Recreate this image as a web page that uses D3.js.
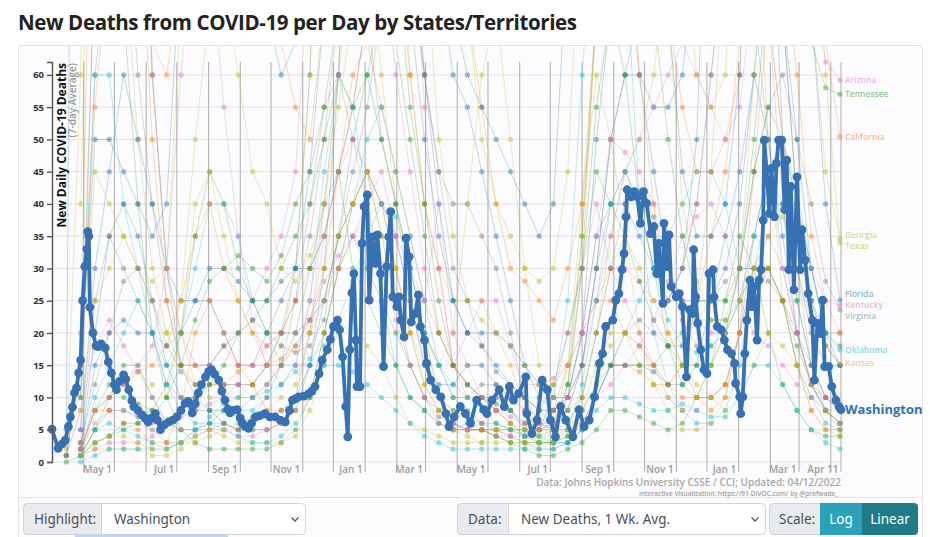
<!DOCTYPE html>
<html>
<head>
<meta charset="utf-8">
<script src="https://cdn.jsdelivr.net/npm/d3@7"></script>
<style>
  body { margin: 0; background: #fff; font-family: "Open Sans", sans-serif; }
</style>
</head>
<body>
<svg id="chart" width="930" height="537"></svg>
<script>
// ---- data ----
var startDate = new Date(2020, 2, 1);
var endDate = new Date(2022, 3, 11);
var stepDays = 14; // background states are read every two weeks

// Washington (highlighted), day offset from Mar 1 2020 and 7-day avg deaths
var waDay = [0,6,10,13,16,18,20,22,24,26,28,30,32,34,35,36,37,40,43,45,48,52,55,58,61,63,66,70,72,75,78,80,84,88,91,94,97,101,103,106,110,114,118,122,126,130,133,137,140,143,146,150,153,156,159,163,166,169,172,174,177,181,184,186,189,192,195,199,203,208,213,218,223,228,232,235,238,241,246,251,254,257,261,264,269,272,275,279,281,284,287,289,291,293,295,297,298,301,303,305,308,310,313,316,318,321,324,327,329,331,333,337,339,341,344,346,349,351,355,358,360,364,366,370,375,380,385,388,393,399,404,409,415,422,425,430,437,442,447,451,456,463,464,469,474,479,484,487,492,497,502,509,515,520,525,530,535,538,541,548,551,554,557,559,561,562,566,569,572,575,578,581,585,588,591,593,597,598,601,603,605,610,613,616,620,623,626,627,629,631,634,637,640,642,646,647,650,654,657,660,664,667,668,672,673,675,677,679,682,684,686,689,691,693,695,696,699,701,703,706,708,710,713,716,718,720,722,725,728,730,731,733,736,739,743,745,748,751,753,755,759,762,766,769,771];
var waVal = [5.1,2.1,2.8,3.4,5.5,7,8.5,10.7,11.5,13.8,15.8,25,30.3,33,35.7,35,24,20,18,17.9,18.3,17.7,15.5,13.8,12,11.2,12.5,13.5,12.8,11.2,9.5,8.6,8,7.3,6.8,6.2,6.8,7.5,6.5,5,5.8,6.2,6.5,7,8,9.1,9.4,7.6,9,10.7,12,13.2,14,14.3,13.6,12.7,11,9.6,8.2,7.6,8,8.1,6.8,6,5.5,5.2,6,7,7.2,7.5,7,7,6.5,6.2,8,9.6,9.8,10.1,10.2,10.6,11,11.7,13.7,15.8,17.4,19,21,22,20.5,16.3,8.6,3.9,17.4,26.2,29.2,18.9,11.7,11.7,33.9,39.6,41.4,25.1,34.9,30.8,35.2,29.2,14.8,30.3,34.9,38.8,25.6,24.1,25.6,22,19.4,34.7,31.8,21.7,23,25.9,21,18.9,15.3,12.7,11.2,10.1,7.5,5.5,7,8.6,7.5,6,9.6,8.1,7.5,9.6,11.2,8.6,11.7,9.6,10.6,13.2,7.5,4.4,6.5,12.7,11.2,6.5,3.9,8.6,6.5,3.9,8.1,5.5,6.5,10.1,15.3,16.8,21,22,25.1,26.1,29.8,32.3,38,42.2,41.1,41.9,41.1,37,41.9,40.1,35.4,36.5,29.2,33.9,24.6,37,30.3,35.2,27.2,25.6,26.1,24.1,13.2,23.6,23,32.9,25.6,21.5,17.4,14.3,13.7,29.2,29.8,25.6,21,20.5,18.9,17.4,16.8,15.3,12.2,10.1,7.5,10.1,16.8,22,28.2,24.1,27.2,18.9,28.2,29.8,37.5,49.9,43.7,38.5,45.5,38,46.3,49.9,49.9,39.1,46.8,29.8,42.7,26.7,44.2,34.4,29.8,36,31.3,26.1,22,12.7,21.5,19.9,25.1,14.8,14.8,11.7,9.6,8.6,8.1];

// labelled background states
var californiaVals = [null,1,15,55,80,75,70,65,60,75,110,130,135,110,90,80,65,55,50,70,120,250,400,550,500,380,250,150,100,70,55,40,30,28,25,22,30,40,70,100,110,100,85,70,55,45,45,50,60,110,160,170,130,90,65,50.4];
var arizonaVals = [null,null,3,8,10,12,15,18,30,60,85,80,55,35,22,15,12,15,25,40,60,110,150,160,140,90,55,30,15,12,10,10,10,12,12,13,15,20,25,35,45,50,55,60,65,60,55,50,55,75,100,110,95,75,62,59.2];
var tennesseeVals = [null,0,1,3,4,6,6,7,10,15,22,28,30,32,30,28,32,40,45,55,70,85,90,100,80,55,40,25,15,12,10,9,8,6,5,6,12,35,70,100,110,90,70,50,35,25,25,25,30,50,75,85,80,65,58,57];
var georgiaVals = [null,1,15,45,40,35,30,25,20,25,50,70,75,60,45,40,30,28,32,40,55,70,90,120,115,100,80,50,35,25,22,20,18,15,12,12,15,35,70,110,140,150,110,70,40,28,22,22,30,60,110,130,110,70,45,34.6];
var texasVals = [null,1,8,25,30,35,30,28,30,70,150,200,180,130,90,80,75,80,100,120,160,200,250,300,330,300,230,160,100,70,50,40,35,30,28,30,45,90,180,260,300,250,180,120,80,60,55,60,100,180,250,260,200,120,60,34];
var floridaVals = [null,1,15,50,50,45,40,35,40,80,140,170,150,110,80,70,60,65,70,85,110,130,150,170,160,140,110,85,70,60,55,50,45,40,35,40,80,200,300,380,320,200,120,70,45,35,35,40,60,110,180,190,130,70,40,25.1];
var kentuckyVals = [null,null,2,6,8,8,7,6,6,7,8,9,10,12,10,12,15,18,22,28,32,35,38,40,35,30,25,40,20,15,10,8,7,6,5,6,10,20,35,50,48,45,40,30,25,22,20,20,25,35,45,50,40,30,25,24.3];
var virginiaVals = [null,null,3,12,20,28,30,25,18,14,12,15,18,20,22,20,18,17,18,22,35,45,55,70,80,75,60,45,30,25,18,14,12,10,6,5,6,10,20,30,40,42,38,30,22,18,18,20,30,45,55,60,50,40,28,23.6];
var oklahomaVals = [null,null,1,5,6,5,4,3,2,3,5,7,9,10,10,11,12,14,16,18,22,28,35,40,38,30,20,15,12,10,8,6,5,4,3,3,5,12,25,40,45,40,30,22,18,17,18,20,25,35,45,50,42,30,20,17.4];
var kansasVals = [null,null,1,3,4,4,3,2,2,3,3,4,5,6,7,8,10,12,20,30,35,40,45,35,30,20,12,8,5,4,3,3,3,3,3,3,5,8,12,18,20,15,12,10,8,10,15,20,25,30,35,38,30,22,18,15.3];

// other (unlabelled) states
var oregonVals = [null,null,1,2,2,2,2,1,1,2,4,5,4,3,3,3,3,4,8,15,20,22,18,15,10,6,5,4,3,3,3,5,6,5,4,4,5,10,20,30,35,30,25,20,15,12,10,8,10,15,20,18,15,12,8,6];
var coloradoVals = [null,1,8,18,22,18,14,10,6,5,5,5,5,4,4,5,6,10,20,35,45,50,40,30,22,15,10,6,5,5,6,8,10,8,6,5,5,6,10,12,15,18,22,28,35,38,40,35,25,20,18,15,12,10,8,6];
var missouriVals = [null,null,2,8,12,10,9,8,6,8,10,12,15,20,22,25,30,35,40,50,60,55,60,50,40,30,20,10,8,7,6,6,5,5,8,12,20,30,45,40,35,28,22,18,15,15,15,20,30,45,55,50,40,30,20,18];
var wisconsinVals = [null,null,1,3,4,5,6,5,3,3,4,5,6,5,7,10,15,25,40,55,60,50,45,35,25,15,10,7,6,5,5,5,4,3,2,2,3,6,10,15,20,22,20,18,18,22,25,28,30,30,28,25,20,15,10,8];
var marylandVals = [null,null,2,20,35,40,35,25,15,10,8,8,8,7,6,7,8,10,15,25,35,40,45,40,35,25,15,12,12,15,15,12,8,5,3,3,3,5,10,15,15,15,14,12,12,15,25,35,45,60,50,35,20,12,8,6];
var louisianaVals = [null,1,15,60,60,40,30,20,15,20,30,40,40,35,25,20,15,15,15,20,30,40,50,55,45,35,25,15,10,8,6,5,5,4,5,10,25,60,90,110,80,40,20,12,8,6,6,8,15,30,40,40,25,15,8,5];
var newYorkVals = [null,5,300,900,600,300,150,60,30,15,10,8,6,5,5,5,6,8,15,30,60,110,150,180,170,130,90,75,60,55,45,35,25,15,10,8,10,20,35,40,40,35,30,25,30,50,110,200,250,200,100,50,30,20,15,15];
var massachusettsVals = [null,null,20,120,150,130,90,50,25,15,15,12,12,14,15,15,16,18,22,30,45,60,65,55,45,35,25,20,15,12,10,8,6,4,3,3,4,6,10,15,15,14,12,12,15,25,35,45,65,80,70,50,30,15,10,8];
var southCarolinaVals = [null,null,1,5,8,8,7,8,12,20,35,45,40,30,25,20,20,20,22,25,35,50,60,70,65,50,35,20,15,12,10,8,6,4,4,5,12,30,55,70,60,40,30,18,12,10,10,12,20,35,45,40,25,15,10,8];
var mississippiVals = [null,null,3,8,10,12,14,12,10,20,40,45,35,25,20,15,15,18,20,25,35,40,45,40,30,20,15,10,8,6,5,5,4,3,3,5,15,40,60,50,35,20,12,8,5,5,6,10,20,30,30,25,15,8,5,4];
var utahVals = [null,null,0,1,2,2,2,2,2,3,5,6,5,4,3,3,4,6,10,15,15,14,12,10,8,6,4,3,2,2,2,2,2,2,2,2,3,5,8,10,10,9,8,8,9,8,7,7,10,15,15,12,8,5,3,2];
var pennsylvaniaVals = [null,null,10,60,80,90,60,40,25,15,15,15,12,12,12,15,20,30,60,120,180,220,200,180,120,90,60,45,40,40,35,30,20,10,8,6,8,15,30,50,60,70,80,90,110,120,140,150,170,160,110,70,40,25,20,20];
var illinoisVals = [null,null,5,80,100,110,90,60,30,20,15,15,18,20,25,30,35,45,80,130,140,120,100,80,60,45,30,20,15,20,25,25,18,10,8,8,10,15,25,30,30,28,25,25,30,40,60,80,120,110,70,40,20,12,10,8];
var michiganVals = [null,null,40,130,110,80,50,30,20,15,12,10,10,10,12,15,18,30,60,120,150,120,80,60,40,25,20,15,20,40,60,70,50,30,15,10,8,10,20,35,45,50,60,80,110,120,130,120,100,90,70,50,35,25,18,15];
var ohioVals = [null,null,5,30,45,60,50,40,30,25,25,25,20,15,15,20,25,30,45,70,90,110,110,120,90,70,50,35,25,20,20,20,18,15,12,10,10,15,30,50,60,60,55,55,60,80,100,120,130,140,110,70,40,25,18,15];
var alabamaVals = [null,null,1,8,10,12,14,15,18,25,35,40,30,25,20,18,20,25,30,35,45,55,70,110,90,60,40,30,15,10,10,8,8,6,5,5,10,30,70,110,100,60,40,20,15,10,8,10,20,45,70,80,60,35,25,20];
var northCarolinaVals = [null,null,2,15,20,22,20,20,18,20,25,30,30,28,25,25,28,30,30,35,45,55,70,80,90,80,60,40,25,20,18,15,12,10,8,8,10,20,50,70,80,60,45,30,25,25,25,30,40,60,80,70,50,30,20,15];
var indianaVals = [null,null,3,25,35,30,25,20,12,10,10,12,12,12,12,15,20,25,35,50,70,80,70,50,40,30,20,15,10,10,12,12,10,8,6,6,8,15,30,40,45,40,30,25,30,40,60,80,90,70,50,30,20,12,8,6];
var minnesotaVals = [null,null,1,10,15,20,25,20,12,8,6,6,6,8,8,10,12,15,25,45,60,55,40,25,15,10,8,6,5,6,8,10,8,5,4,3,3,5,10,15,20,25,30,35,40,45,45,40,30,30,30,25,15,10,6,5];
var iowaVals = [null,null,1,5,10,15,15,10,6,5,5,6,8,8,10,12,15,20,30,40,45,30,25,20,15,10,8,6,5,5,5,4,3,3,3,3,4,8,12,15,15,15,15,18,20,22,22,22,25,30,30,25,18,12,8,6];
var arkansasVals = [null,null,1,2,3,3,3,4,6,8,10,15,18,15,15,18,20,20,22,25,30,35,40,45,35,25,15,10,6,5,5,4,4,4,5,10,20,30,40,30,25,20,15,10,8,8,10,12,20,30,35,30,20,12,10,8];
var nevadaVals = [null,null,2,8,8,6,5,3,3,8,20,25,20,15,12,8,8,8,10,20,30,40,45,40,30,20,12,8,5,5,5,5,5,5,5,8,15,20,25,25,20,18,15,12,10,10,10,12,20,25,30,25,15,8,5,5];
var newJerseyVals = [null,2,60,300,300,200,120,60,30,20,12,8,6,5,5,5,6,10,20,40,60,80,90,90,80,60,40,30,25,25,25,20,15,8,5,5,5,8,15,20,20,18,15,12,15,25,45,80,110,90,50,25,15,10,8,8];
var connecticutVals = [null,null,10,80,90,70,40,20,10,5,3,2,2,2,2,2,3,5,10,20,30,35,30,25,20,15,10,8,6,5,5,4,3,2,1,1,2,3,5,8,8,7,6,5,6,10,15,25,35,30,20,12,8,5,4,4];

var blue = "#1f77b4", orange = "#ff7f0e", green = "#2ca02c", pink = "#e377c2",
    gray = "#7f7f7f", olive = "#bcbd22", cyan = "#17becf";
var highlightColor = "#3571b3";

var bgSeries = [
  {name: "New York", color: blue, values: newYorkVals},
  {name: "New Jersey", color: olive, values: newJerseyVals},
  {name: "Pennsylvania", color: gray, values: pennsylvaniaVals},
  {name: "Illinois", color: pink, values: illinoisVals},
  {name: "Michigan", color: olive, values: michiganVals},
  {name: "Ohio", color: blue, values: ohioVals},
  {name: "Massachusetts", color: orange, values: massachusettsVals},
  {name: "Connecticut", color: green, values: connecticutVals},
  {name: "Louisiana", color: cyan, values: louisianaVals},
  {name: "Maryland", color: blue, values: marylandVals},
  {name: "North Carolina", color: blue, values: northCarolinaVals},
  {name: "Indiana", color: gray, values: indianaVals},
  {name: "Alabama", color: orange, values: alabamaVals},
  {name: "Missouri", color: green, values: missouriVals},
  {name: "South Carolina", color: green, values: southCarolinaVals},
  {name: "Mississippi", color: olive, values: mississippiVals},
  {name: "Minnesota", color: cyan, values: minnesotaVals},
  {name: "Wisconsin", color: gray, values: wisconsinVals},
  {name: "Iowa", color: green, values: iowaVals},
  {name: "Arkansas", color: pink, values: arkansasVals},
  {name: "Nevada", color: orange, values: nevadaVals},
  {name: "Colorado", color: pink, values: coloradoVals},
  {name: "Oregon", color: olive, values: oregonVals},
  {name: "Utah", color: cyan, values: utahVals},
  {name: "California", color: orange, values: californiaVals, label: true},
  {name: "Arizona", color: pink, values: arizonaVals, label: true},
  {name: "Tennessee", color: green, values: tennesseeVals, label: true},
  {name: "Georgia", color: olive, values: georgiaVals, label: true},
  {name: "Texas", color: olive, values: texasVals, label: true},
  {name: "Florida", color: blue, values: floridaVals, label: true},
  {name: "Kentucky", color: pink, values: kentuckyVals, label: true},
  {name: "Virginia", color: gray, values: virginiaVals, label: true},
  {name: "Oklahoma", color: cyan, values: oklahomaVals, label: true},
  {name: "Kansas", color: olive, values: kansasVals, label: true}
];

var yTicks = [0, 5, 10, 15, 20, 25, 30, 35, 40, 45, 50, 55, 60];

// ---- chart ----
var svg = d3.select("#chart");

var x = d3.scaleTime().domain([startDate, endDate]).range([52, 841]);
var y = d3.scaleLinear().domain([0, 62]).range([462, 62]);

function dayToDate(d) { return d3.timeDay.offset(startDate, d); }

// title
svg.append("text")
  .attr("x", 18).attr("y", 30)
  .attr("textLength", 559)
  .style("font-family", "Open Sans").style("font-weight", 700)
  .style("font-size", "20.5px").style("fill", "#222")
  .text("New Deaths from COVID-19 per Day by States/Territories");

// card
svg.append("rect")
  .attr("x", 18.5).attr("y", 45.5).attr("width", 904).attr("height", 520)
  .attr("rx", 3).attr("fill", "#fcfbfd").attr("stroke", "#e4e4e4");
svg.append("line")
  .attr("x1", 19).attr("x2", 922).attr("y1", 497.5).attr("y2", 497.5)
  .attr("stroke", "#e4e4e4");

// horizontal grid
svg.append("g").selectAll("line")
  .data(yTicks).enter().append("line")
  .attr("x1", 52).attr("x2", 841)
  .attr("y1", function(d) { return y(d); })
  .attr("y2", function(d) { return y(d); })
  .attr("stroke", "#ecdff0").attr("stroke-width", 1);

// vertical month lines
var monthLines = d3.timeMonth.range(new Date(2020, 3, 1), endDate).concat([endDate]);
svg.append("g").selectAll("line")
  .data(monthLines).enter().append("line")
  .attr("x1", function(d) { return x(d); })
  .attr("x2", function(d) { return x(d); })
  .attr("y1", 62).attr("y2", 472)
  .attr("stroke", "#b4b4b4").attr("stroke-width", 1.1);

// x axis labels
var labelDates = d3.timeMonth.every(2).range(new Date(2020, 3, 1), endDate).concat([endDate]);
var xAxis = svg.append("g")
  .attr("transform", "translate(0,462)")
  .call(d3.axisBottom(x).tickValues(labelDates).tickFormat(d3.timeFormat("%b %-d")).tickSize(0));
xAxis.select(".domain").remove();
xAxis.selectAll("text")
  .attr("text-anchor", "end").attr("x", -3).attr("y", 4).attr("dy", "0.71em")
  .style("font-family", "Open Sans").style("font-weight", 600)
  .style("font-size", "10px").style("fill", "#9c9c9c");

// clip for the series
svg.append("clipPath").attr("id", "plotClip")
  .append("rect").attr("x", 46).attr("y", 46).attr("width", 800).attr("height", 424);
var plot = svg.append("g").attr("clip-path", "url(#plotClip)");

var line = d3.line()
  .defined(function(d) { return d.value != null; })
  .x(function(d) { return x(d.date); })
  .y(function(d) { return y(d.value); });

bgSeries.forEach(function(s) {
  var pts = s.values.map(function(v, i) {
    return {date: dayToDate(i * stepDays), value: v};
  }).filter(function(d) { return d.value != null; });
  plot.append("path").datum(pts)
    .attr("d", line)
    .attr("fill", "none").attr("stroke", s.color)
    .attr("stroke-width", 1).attr("stroke-opacity", 0.28);
  plot.append("g").selectAll("circle")
    .data(pts).enter().append("circle")
    .attr("cx", function(d) { return x(d.date); })
    .attr("cy", function(d) { return y(d.value); })
    .attr("r", 2.6)
    .attr("fill", s.color).attr("fill-opacity", 0.45);
});

// Washington
var waPts = waDay.map(function(d, i) { return {date: dayToDate(d), value: waVal[i]}; });
plot.append("path").datum(waPts)
  .attr("d", line)
  .attr("fill", "none").attr("stroke", highlightColor)
  .attr("stroke-width", 3.8).attr("stroke-linejoin", "round");
plot.append("g").selectAll("circle")
  .data(waPts).enter().append("circle")
  .attr("cx", function(d) { return x(d.date); })
  .attr("cy", function(d) { return y(d.value); })
  .attr("r", 4.4)
  .attr("fill", highlightColor);

// y axis
var yAxis = svg.append("g")
  .attr("transform", "translate(52,0)")
  .call(d3.axisLeft(y).tickValues(yTicks).tickSize(5));
yAxis.select(".domain").attr("stroke", "#555").attr("stroke-width", 1.4);
yAxis.selectAll(".tick line").attr("stroke", "#555").attr("stroke-width", 1.4);
yAxis.selectAll("text")
  .style("font-family", "Open Sans").style("font-weight", 700)
  .style("font-size", "9.5px").style("fill", "#333");

// y titles
svg.append("text")
  .attr("transform", "translate(66,63) rotate(-90)")
  .attr("text-anchor", "end")
  .style("font-family", "Open Sans").style("font-weight", 700)
  .style("font-size", "12px").style("fill", "#111")
  .text("New Daily COVID-19 Deaths");
svg.append("text")
  .attr("transform", "translate(76,63) rotate(-90)")
  .attr("text-anchor", "end")
  .style("font-family", "Open Sans").style("font-weight", 600)
  .style("font-size", "10px").style("fill", "#999")
  .text("(7-day Average)");

// end labels, nudged apart so that close ones stay readable
var labelled = bgSeries.filter(function(s) { return s.label; }).map(function(s) {
  return {name: s.name, color: s.color, ly: y(s.values[s.values.length - 1])};
}).sort(function(a, b) { return a.ly - b.ly; });
var minGap = 11;
var groups = [];
labelled.forEach(function(l) {
  var g = groups[groups.length - 1];
  if (g && l.ly - g[g.length - 1].ly < minGap) g.push(l); else groups.push([l]);
});
groups.forEach(function(g) {
  var mid = d3.mean(g, function(l) { return l.ly; });
  g.forEach(function(l, i) { l.ly = mid + (i - (g.length - 1) / 2) * minGap; });
});
svg.append("g").selectAll("text")
  .data(labelled).enter().append("text")
  .attr("x", 845)
  .attr("y", function(l) { return l.ly; })
  .attr("dy", "0.35em")
  .style("font-family", "Open Sans").style("font-weight", 600)
  .style("font-size", "8.5px")
  .style("fill", function(l) { return l.color; })
  .style("fill-opacity", 0.55)
  .text(function(l) { return l.name; });

svg.append("text")
  .attr("x", 845).attr("y", y(waVal[waVal.length - 1]))
  .attr("dy", "0.35em")
  .style("font-family", "Open Sans").style("font-weight", 700)
  .style("font-size", "13px").style("fill", highlightColor)
  .text("Washington");

// source
svg.append("text")
  .attr("x", 841).attr("y", 485.5).attr("text-anchor", "end")
  .style("font-family", "Open Sans").style("font-weight", 600)
  .style("font-size", "10px").style("fill", "#a8a8a8")
  .text("Data: Johns Hopkins University CSSE / CCI; Updated: 04/12/2022");
svg.append("text")
  .attr("x", 838).attr("y", 496).attr("text-anchor", "end")
  .style("font-family", "Open Sans").style("font-weight", 600)
  .style("font-size", "6.5px").style("fill", "#a0a0a0")
  .text("Interactive Visualization: https://91-DIVOC.com/ by @profwade_");

// ---- controls ----
function leftRound(x0, y0, w, h, r) {
  return "M" + (x0 + w) + "," + y0 + "H" + (x0 + r) + "Q" + x0 + "," + y0 + " " + x0 + "," + (y0 + r) +
    "V" + (y0 + h - r) + "Q" + x0 + "," + (y0 + h) + " " + (x0 + r) + "," + (y0 + h) + "H" + (x0 + w) + "Z";
}
function rightRound(x0, y0, w, h, r) {
  return "M" + x0 + "," + y0 + "H" + (x0 + w - r) + "Q" + (x0 + w) + "," + y0 + " " + (x0 + w) + "," + (y0 + r) +
    "V" + (y0 + h - r) + "Q" + (x0 + w) + "," + (y0 + h) + " " + (x0 + w - r) + "," + (y0 + h) + "H" + x0 + "Z";
}
var ctl = svg.append("g").style("font-family", "Noto Sans").style("font-size", "13.5px");

function selectGroup(x0, labelW, totalW, label, value) {
  ctl.append("rect").attr("x", x0 + 0.5).attr("y", 503.5).attr("width", totalW).attr("height", 31)
    .attr("rx", 4).attr("fill", "#fff").attr("stroke", "#ced4da");
  ctl.append("path").attr("d", leftRound(x0 + 0.5, 503.5, labelW, 31, 4))
    .attr("fill", "#e9ecef").attr("stroke", "#ced4da");
  ctl.append("text").attr("x", x0 + 11).attr("y", 524).style("fill", "#495057").text(label);
  if (value) {
    ctl.append("text").attr("x", x0 + labelW + 13).attr("y", 524).style("fill", "#495057").text(value);
    var cx = x0 + totalW - 10;
    ctl.append("path").attr("d", "M" + (cx - 3.5) + ",517.5L" + cx + ",521L" + (cx + 3.5) + ",517.5")
      .attr("fill", "none").attr("stroke", "#555").attr("stroke-width", 1.3);
  }
}
selectGroup(23, 78, 282, "Highlight:", "Washington");
selectGroup(457, 51, 308, "Data:", "New Deaths, 1 Wk. Avg.");

// scale toggle
ctl.append("path").attr("d", leftRound(769.5, 503.5, 51, 31, 4))
  .attr("fill", "#e9ecef").attr("stroke", "#ced4da");
ctl.append("text").attr("x", 779).attr("y", 524).style("fill", "#495057").text("Scale:");
ctl.append("rect").attr("x", 820).attr("y", 503).attr("width", 42).attr("height", 32).attr("fill", "#2aa3b9");
ctl.append("path").attr("d", rightRound(862, 503, 56, 32, 4)).attr("fill", "#1f7b8a");
ctl.append("text").attr("x", 841).attr("y", 524).attr("text-anchor", "middle").style("fill", "#fff").text("Log");
ctl.append("text").attr("x", 890).attr("y", 524).attr("text-anchor", "middle").style("fill", "#fff").text("Linear");

// focus glow under highlight select
ctl.append("rect").attr("x", 75).attr("y", 535).attr("width", 153).attr("height", 2).attr("fill", "#bcd6f7");
</script>
</body>
</html>
